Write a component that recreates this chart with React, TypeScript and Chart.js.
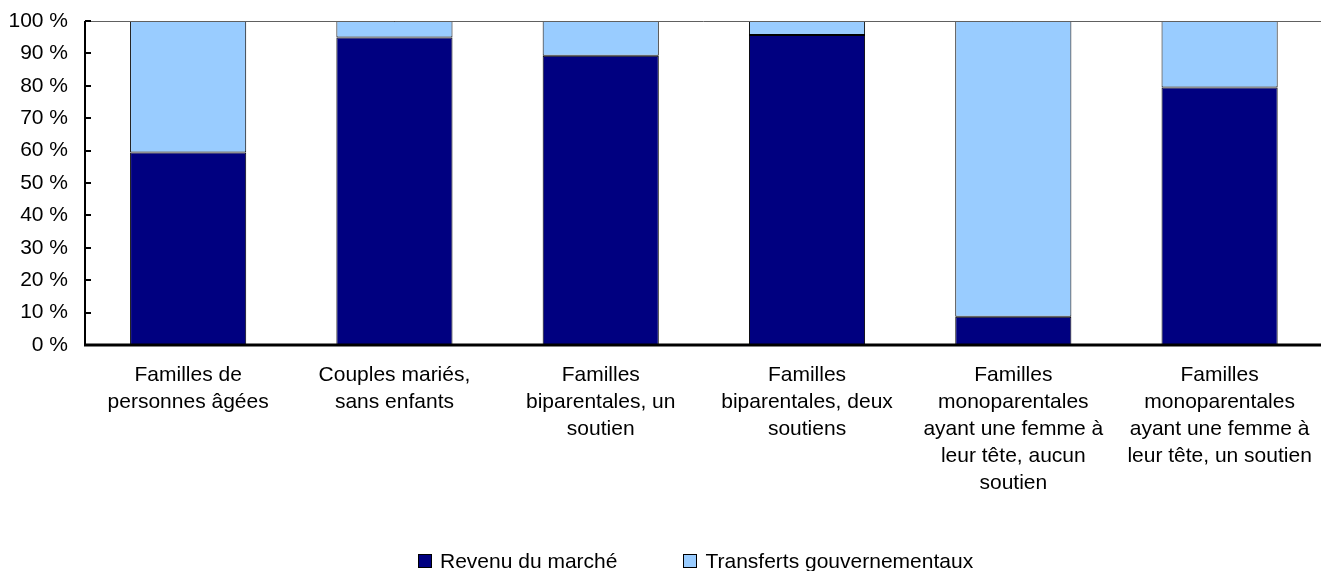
import React, { useEffect, useRef } from "react";
import { Chart, registerables } from "chart.js";

Chart.register(...registerables);

const categories: string[][] = [
  ["Familles de", "personnes âgées"],
  ["Couples mariés,", "sans enfants"],
  ["Familles", "biparentales, un", "soutien"],
  ["Familles", "biparentales, deux", "soutiens"],
  ["Familles", "monoparentales", "ayant une femme à", "leur tête, aucun", "soutien"],
  ["Familles", "monoparentales", "ayant une femme à", "leur tête, un soutien"],
];

const revenuMarche = [59.4, 94.9, 89.3, 95.7, 8.7, 79.5];
const transferts = [40.6, 5.1, 10.7, 4.3, 91.3, 20.5];

const seriesLabels = ["Revenu du marché", "Transferts gouvernementaux"];
const seriesColors = ["#000080", "#99CCFF"];

const yTicks = [0, 10, 20, 30, 40, 50, 60, 70, 80, 90, 100];

const FONT = "'Liberation Sans', Arial, sans-serif";

const framePlugin = {
  id: "frame",
  afterDatasetsDraw(chart: any) {
    const { ctx, chartArea } = chart;
    const { left, right, top, bottom } = chartArea;
    const y = chart.scales.y;
    ctx.save();
    // top and right border
    ctx.strokeStyle = "#606060";
    ctx.lineWidth = 1;
    ctx.beginPath();
    ctx.moveTo(left, top + 0.5);
    ctx.lineTo(right - 0.5, top + 0.5);
    ctx.lineTo(right - 0.5, bottom);
    ctx.stroke();
    // inner tick marks
    ctx.strokeStyle = "#000";
    ctx.lineWidth = 2;
    ctx.beginPath();
    for (const t of yTicks) {
      const py = Math.round(y.getPixelForValue(t));
      ctx.moveTo(left, py);
      ctx.lineTo(left + 6, py);
    }
    ctx.stroke();
    // left axis
    ctx.lineWidth = 2;
    ctx.beginPath();
    ctx.moveTo(left, top);
    ctx.lineTo(left, bottom);
    ctx.stroke();
    // bottom axis
    ctx.lineWidth = 3;
    ctx.beginPath();
    ctx.moveTo(left - 1, bottom);
    ctx.lineTo(right, bottom);
    ctx.stroke();
    ctx.restore();
  },
};

export default function App() {
  const canvasRef = useRef<HTMLCanvasElement | null>(null);

  useEffect(() => {
    if (!canvasRef.current) return;
    const chart = new Chart(canvasRef.current, {
      type: "bar",
      data: {
        labels: categories,
        datasets: [
          {
            label: seriesLabels[0],
            data: revenuMarche,
            backgroundColor: seriesColors[0],
            borderColor: "#000",
            borderWidth: 1,
            borderSkipped: false,
            barPercentage: 0.563,
            categoryPercentage: 1,
          },
          {
            label: seriesLabels[1],
            data: transferts,
            backgroundColor: seriesColors[1],
            borderColor: "#000",
            borderWidth: 1,
            borderSkipped: false,
            barPercentage: 0.563,
            categoryPercentage: 1,
          },
        ],
      },
      options: {
        animation: false,
        responsive: false,
        maintainAspectRatio: false,
        layout: { padding: { top: 13, right: 2, left: 0, bottom: 0 } },
        plugins: {
          legend: { display: false },
          tooltip: { enabled: false },
        },
        scales: {
          x: {
            stacked: true,
            grid: { display: false, drawTicks: false },
            border: { display: false },
            ticks: {
              color: "#000",
              font: { family: FONT, size: 21, lineHeight: 1.28 },
              padding: 17,
              maxRotation: 0,
              autoSkip: false,
            },
            afterFit(scale: any) {
              scale.height = 226;
            },
          },
          y: {
            stacked: true,
            min: 0,
            max: 100,
            grid: { display: false, drawTicks: false },
            border: { display: false },
            ticks: {
              stepSize: 10,
              color: "#000",
              font: { family: FONT, size: 21 },
              padding: 17,
              callback: (v: any) => `${v} %`,
            },
            afterFit(scale: any) {
              scale.width = 77;
              scale.paddingTop = 0;
              scale.paddingBottom = 0;
            },
          },
        },
      },
      plugins: [framePlugin],
    });
    return () => chart.destroy();
  }, []);

  return (
    <div style={{ position: "relative", width: 1321, height: 563 }}>
      <canvas ref={canvasRef} width={1321} height={563} style={{ display: "block" }} />
      <div
        style={{
          position: "absolute",
          top: 542,
          left: 410,
          display: "flex",
          alignItems: "center",
          fontFamily: FONT,
          fontSize: 21,
          lineHeight: "21px",
          color: "#000",
          whiteSpace: "nowrap",
        }}
      >
        {seriesLabels.map((lab, i) => (
          <div
            key={lab}
            style={{ display: "flex", alignItems: "center", marginRight: i === 0 ? 66 : 0 }}
          >
            <span
              style={{
                display: "inline-block",
                width: 12,
                height: 12,
                background: seriesColors[i],
                border: "1px solid #000",
                marginRight: 8,
              }}
            />
            <span>{lab}</span>
          </div>
        ))}
      </div>
    </div>
  );
}
